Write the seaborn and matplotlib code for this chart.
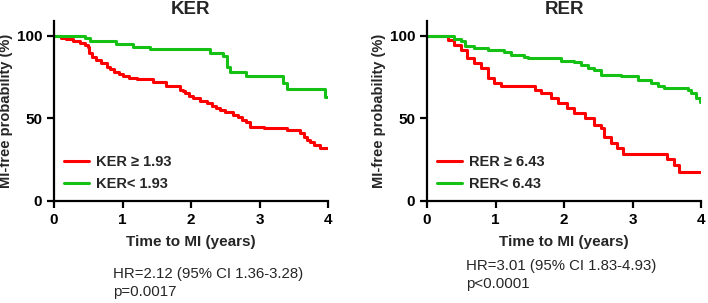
import matplotlib
matplotlib.use('Agg')
import matplotlib.pyplot as plt
import seaborn as sns

sns.set_style('ticks')
plt.rcParams['font.family'] = ['Liberation Sans', 'DejaVu Sans']

# KER 패널 (생존곡선 계단점, 그림에서 읽음)
ker_hi_t = [0, 0.10, 0.18, 0.28, 0.38, 0.45, 0.49, 0.51, 0.56, 0.62, 0.68, 0.77, 0.82, 0.87,
            0.95, 1.01, 1.10, 1.21, 1.45, 1.64, 1.84, 1.88, 1.91, 1.97, 2.03, 2.13, 2.23, 2.30,
            2.36, 2.42, 2.50, 2.62, 2.68, 2.75, 2.81, 2.86, 3.06, 3.40, 3.59, 3.65, 3.69,
            3.74, 3.79, 3.88, 4.0]
ker_hi_s = [100, 99, 98, 97, 95.6, 94.5, 93.5, 89.5, 87.5, 85.5, 83.5, 81.4, 80, 78.4,
            77, 75.8, 74.7, 73.7, 72.3, 69.7, 67.5, 66.5, 65.3, 63.5, 62.2, 60.7, 59.2, 57.8,
            56.5, 55.2, 53.6, 52.1, 50.6, 49.2, 48.1, 45, 44, 43, 41, 39, 37,
            35.5, 34, 32.3, 32.3]
ker_lo_t = [0, 0.38, 0.45, 0.53, 0.91, 1.16, 1.40, 2.18, 2.28, 2.47, 2.52, 2.57, 2.81, 3.30,
            3.35, 3.40, 3.93, 3.96, 4.0]
ker_lo_s = [100, 100, 98.5, 96.6, 95, 93.5, 92, 92, 89.5, 87.9, 81.4, 78.4, 75.4, 75.4,
            71.3, 67.7, 67.7, 63.2, 63.2]

# RER 패널
rer_hi_t = [0, 0.20, 0.30, 0.40, 0.50, 0.59, 0.69, 0.79, 0.89, 0.98, 1.08, 1.47, 1.57, 1.66,
            1.81, 1.91, 2.05, 2.15, 2.30, 2.44, 2.54, 2.59, 2.69, 2.78, 2.86, 3.42, 3.51, 3.61,
            3.68, 4.0]
rer_hi_s = [100, 100, 97.6, 94.5, 91.5, 86.5, 83.4, 80.4, 74.3, 71.3, 69.7, 69.7, 67.3, 65.3,
            62.2, 59.2, 56.2, 53.1, 50.1, 46.1, 44, 39, 35, 32, 28.3, 28.3, 25.3, 21.8,
            17.8, 17.8]
rer_lo_t = [0, 0.40, 0.50, 0.55, 0.69, 0.89, 1.13, 1.23, 1.42, 1.47, 1.96, 2.15, 2.25, 2.35,
            2.44, 2.54, 2.83, 3.08, 3.27, 3.37, 3.46, 3.81, 3.85, 3.93, 3.98, 4.0]
rer_lo_s = [100, 98, 96.6, 94, 92.5, 91.5, 90.5, 88.5, 87.5, 86.5, 84.8, 84.4, 82.4, 80.8,
            79.4, 76.4, 75.4, 73.3, 71.3, 69.7, 68.3, 67.3, 65.3, 62.6, 60.2, 60.2]

titles = ['KER', 'RER']
labels_hi = ['KER ≥ 1.93', 'RER ≥ 6.43']
labels_lo = ['KER< 1.93', 'RER< 6.43']
stats = [['HR=2.12 (95% CI 1.36-3.28)', 'p=0.0017'],
         ['HR=3.01 (95% CI 1.83-4.93)', 'p<0.0001']]

RED = '#ff0000'
GREEN = '#14c114'

fig = plt.figure(figsize=(7.08, 3.03), dpi=100)
ax1 = fig.add_axes([54/708, 102/303, 274/708, 180/303])
ax2 = fig.add_axes([427/708, 102/303, 274/708, 180/303])

panels = [(ax1, ker_hi_t, ker_hi_s, ker_lo_t, ker_lo_s),
          (ax2, rer_hi_t, rer_hi_s, rer_lo_t, rer_lo_s)]

for i, (ax, ht, hs, lt, ls) in enumerate(panels):
    sns.lineplot(x=ht, y=hs, ax=ax, color=RED, lw=2.2, drawstyle='steps-post',
                 estimator=None, label=labels_hi[i])
    sns.lineplot(x=lt, y=ls, ax=ax, color=GREEN, lw=2.2, drawstyle='steps-post',
                 estimator=None, label=labels_lo[i])
    ax.set_xlim(0, 4)
    ax.set_ylim(0, 109)
    ax.set_xticks([0, 1, 2, 3, 4])
    ax.set_yticks([0, 50, 100])
    for s in ['top', 'right']:
        ax.spines[s].set_visible(False)
    for s in ['left', 'bottom']:
        ax.spines[s].set_linewidth(1.6)
        ax.spines[s].set_color('black')
    ax.tick_params(width=1.6, length=5, labelsize=11, colors='black')
    for lb in ax.get_xticklabels() + ax.get_yticklabels():
        lb.set_fontweight('bold')
    ax.set_title(titles[i], fontsize=13.5, fontweight='bold', pad=5)
    ax.set_xlabel('Time to MI (years)', fontsize=11, fontweight='bold', labelpad=6)
    ax.set_ylabel('MI-free probability (%)', fontsize=10.5, fontweight='bold', labelpad=3)
    ax.legend(loc='lower left', bbox_to_anchor=(0.0, 0.0), frameon=False,
              handlelength=1.7, handletextpad=0.45, labelspacing=0.55,
              prop={'weight': 'bold', 'size': 10.5}, borderaxespad=0.3)

fig.text(113/708, 1 - 274/303, stats[0][0], fontsize=10.8, va='center')
fig.text(113/708, 1 - 292/303, stats[0][1], fontsize=10.8, va='center')
fig.text(466/708, 1 - 266/303, stats[1][0], fontsize=10.8, va='center')
fig.text(466/708, 1 - 284/303, stats[1][1], fontsize=10.8, va='center')

fig.savefig('out.png', dpi=100)
